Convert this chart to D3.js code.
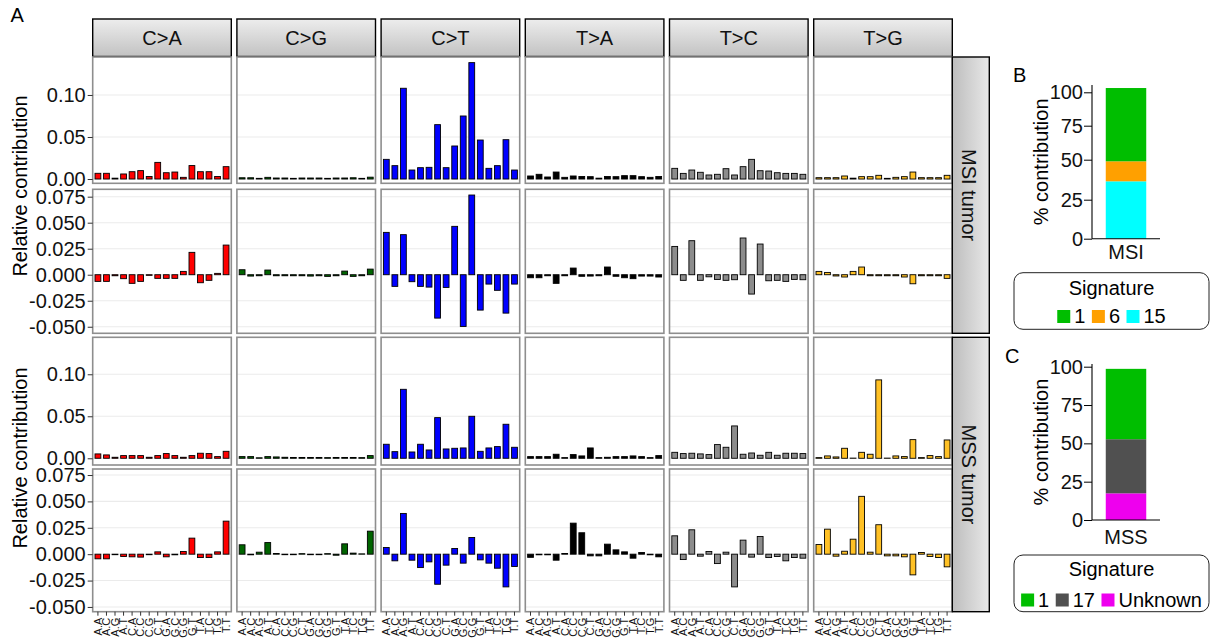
<!DOCTYPE html>
<html>
<head>
<meta charset="utf-8">
<script src="https://cdn.jsdelivr.net/npm/d3@7"></script>
<style>
  body { margin: 0; background: #fff; }
  svg { display: block; font-family: "Liberation Sans", Arial, Helvetica, sans-serif; }
</style>
</head>
<body>
<svg id="chart" width="1210" height="638"></svg>
<script>
// ---- data ----
const mutationTypes = ["C>A", "C>G", "C>T", "T>A", "T>C", "T>G"];
const contexts = ["A.A", "A.C", "A.G", "A.T", "C.A", "C.C", "C.G", "C.T",
                  "G.A", "G.C", "G.G", "G.T", "T.A", "T.C", "T.G", "T.T"];
const typeColors = ["#FF0000", "#006400", "#0000FF", "#000000", "#8C8C8C", "#FFC125"];
const tumorLabels = ["MSI tumor", "MSS tumor"];

// 96-channel profiles, ordered by mutation type then context
const msiProfile = [
  0.0068, 0.0068, 0.0010, 0.0060, 0.0087, 0.0100, 0.0030, 0.0198, 0.0075, 0.0083, 0.0020, 0.0160, 0.0087, 0.0087, 0.0030, 0.0147,
  0.0015, 0.0015, 0.0008, 0.0020, 0.0012, 0.0012, 0.0008, 0.0012, 0.0012, 0.0012, 0.0008, 0.0012, 0.0012, 0.0015, 0.0008, 0.0022,
  0.0234, 0.0159, 0.1080, 0.0107, 0.0135, 0.0139, 0.0647, 0.0135, 0.0393, 0.0750, 0.1385, 0.0464, 0.0127, 0.0159, 0.0468, 0.0107,
  0.0036, 0.0056, 0.0024, 0.0083, 0.0020, 0.0036, 0.0030, 0.0028, 0.0010, 0.0030, 0.0028, 0.0040, 0.0040, 0.0028, 0.0020, 0.0030,
  0.0127, 0.0067, 0.0107, 0.0080, 0.0048, 0.0056, 0.0123, 0.0048, 0.0147, 0.0234, 0.0099, 0.0095, 0.0075, 0.0067, 0.0067, 0.0056,
  0.0016, 0.0016, 0.0016, 0.0036, 0.0010, 0.0028, 0.0028, 0.0044, 0.0008, 0.0020, 0.0028, 0.0083, 0.0016, 0.0016, 0.0016, 0.0044
];
const msiDifference = [
  -0.0064, -0.0064, -0.0010, -0.0038, -0.0083, -0.0064, -0.0006, -0.0035, -0.0035, -0.0035, 0.0032, 0.0215, -0.0077, -0.0054, 0.0013, 0.0285,
  0.0048, -0.0013, -0.0010, 0.0045, -0.0010, -0.0010, -0.0010, -0.0010, -0.0013, -0.0010, -0.0016, -0.0010, 0.0035, -0.0016, -0.0010, 0.0054,
  0.0407, -0.0112, 0.0385, -0.0067, -0.0112, -0.0119, -0.0417, -0.0122, 0.0465, -0.0497, 0.0766, -0.0340, -0.0090, -0.0150, -0.0369, -0.0090,
  -0.0029, -0.0029, -0.0010, -0.0083, -0.0010, 0.0064, -0.0015, -0.0013, -0.0010, 0.0074, -0.0015, -0.0029, -0.0038, -0.0013, -0.0013, -0.0022,
  0.0272, -0.0054, 0.0327, -0.0054, -0.0020, -0.0045, -0.0054, -0.0048, 0.0353, -0.0186, 0.0295, -0.0058, -0.0054, -0.0064, -0.0045, -0.0048,
  0.0032, 0.0022, -0.0012, -0.0022, 0.0032, 0.0074, -0.0010, -0.0010, -0.0010, -0.0010, -0.0022, -0.0087, -0.0010, -0.0010, -0.0010, -0.0035
];
const mssProfile = [
  0.0052, 0.0040, 0.0012, 0.0032, 0.0032, 0.0032, 0.0012, 0.0032, 0.0056, 0.0032, 0.0012, 0.0032, 0.0060, 0.0056, 0.0020, 0.0083,
  0.0020, 0.0020, 0.0006, 0.0020, 0.0016, 0.0012, 0.0010, 0.0010, 0.0010, 0.0010, 0.0008, 0.0010, 0.0010, 0.0010, 0.0008, 0.0032,
  0.0167, 0.0079, 0.0821, 0.0075, 0.0167, 0.0099, 0.0484, 0.0111, 0.0119, 0.0123, 0.0500, 0.0083, 0.0123, 0.0139, 0.0405, 0.0131,
  0.0020, 0.0020, 0.0020, 0.0048, 0.0008, 0.0044, 0.0028, 0.0123, 0.0008, 0.0012, 0.0020, 0.0020, 0.0028, 0.0020, 0.0008, 0.0032,
  0.0071, 0.0056, 0.0060, 0.0052, 0.0044, 0.0163, 0.0131, 0.0385, 0.0048, 0.0063, 0.0036, 0.0071, 0.0036, 0.0060, 0.0060, 0.0056,
  0.0008, 0.0028, 0.0016, 0.0119, 0.0002, 0.0071, 0.0048, 0.0933, 0.0002, 0.0028, 0.0020, 0.0222, 0.0008, 0.0032, 0.0020, 0.0218
];
const mssDifference = [
  -0.0044, -0.0044, -0.0005, -0.0022, -0.0025, -0.0028, -0.0005, 0.0022, -0.0025, -0.0006, 0.0025, 0.0152, -0.0032, -0.0032, 0.0022, 0.0313,
  0.0089, -0.0006, 0.0019, 0.0110, 0.0006, -0.0005, -0.0005, 0.0005, -0.0005, -0.0005, 0.0005, -0.0010, 0.0098, 0.0010, 0.0003, 0.0218,
  0.0063, -0.0063, 0.0386, -0.0057, -0.0127, -0.0073, -0.0285, -0.0104, 0.0054, -0.0085, 0.0158, -0.0054, -0.0085, -0.0133, -0.0310, -0.0117,
  -0.0030, -0.0006, -0.0006, -0.0057, 0.0006, 0.0294, 0.0203, -0.0016, -0.0016, 0.0095, 0.0041, 0.0022, -0.0038, 0.0016, -0.0006, -0.0025,
  0.0174, -0.0051, 0.0231, -0.0019, 0.0025, -0.0089, 0.0019, -0.0310, 0.0133, -0.0028, 0.0168, -0.0032, -0.0022, -0.0063, -0.0032, -0.0038,
  0.0092, 0.0237, -0.0019, 0.0028, 0.0142, 0.0548, 0.0019, 0.0279, -0.0016, -0.0016, -0.0025, -0.0196, 0.0016, -0.0022, -0.0032, -0.0120
];
const profileTicks = [0, 0.05, 0.10];
const differenceTicks = [-0.050, -0.025, 0, 0.025, 0.050, 0.075];

// signature contributions (%)
const msiSignatures = ["1", "6", "15"];
const msiContribution = [54.2, 12.5, 36.5];
const msiSignatureColors = ["#00BE00", "#FFA000", "#00FFFF"];
const mssSignatures = ["1", "17", "Unknown"];
const mssContribution = [45.9, 35.3, 17.4];
const mssSignatureColors = ["#00BE00", "#505050", "#EE00EE"];
const percentTicks = [0, 25, 50, 75, 100];

// ---- layout ----
const svg = d3.select("#chart");
const defs = svg.append("defs");
const FONT = 20;
const locale = d3.formatLocale({decimal: ".", thousands: ",", grouping: [3], currency: ["", ""], minus: "-"});

const stripV = defs.append("linearGradient").attr("id", "stripTop")
  .attr("x1", 0).attr("y1", 0).attr("x2", 0).attr("y2", 1);
stripV.append("stop").attr("offset", 0).attr("stop-color", "#ededed");
stripV.append("stop").attr("offset", 1).attr("stop-color", "#c2c2c2");
const stripH = defs.append("linearGradient").attr("id", "stripSide")
  .attr("x1", 0).attr("y1", 0).attr("x2", 1).attr("y2", 0);
stripH.append("stop").attr("offset", 0).attr("stop-color", "#bdbdbd");
stripH.append("stop").attr("offset", 1).attr("stop-color", "#e8e8e8");

const gridLeft = 92.7, colStride = 144.2, colWidth = 138.6;
const stripTop = 19, stripBottom = 56.5;
const rowLayout = [
  {top: 57,    bottom: 183.3, domain: [-0.0051, 0.1452], ticks: profileTicks,    fmt: ".2f"},
  {top: 189.3, bottom: 333.3, domain: [-0.0563, 0.0821], ticks: differenceTicks, fmt: ".3f"},
  {top: 337.3, bottom: 465,   domain: [-0.0080, 0.1440], ticks: profileTicks,    fmt: ".2f"},
  {top: 469,   bottom: 611.7, domain: [-0.0545, 0.0807], ticks: differenceTicks, fmt: ".3f"}
];
const rowValues = [msiProfile, msiDifference, mssProfile, mssDifference];

const colX = mutationTypes.map((t, i) => gridLeft + i * colStride);

// top strips
mutationTypes.forEach((t, i) => {
  const g = svg.append("g");
  g.append("rect").attr("x", colX[i]).attr("y", stripTop)
    .attr("width", colWidth).attr("height", stripBottom - stripTop)
    .attr("fill", "url(#stripTop)").attr("stroke", "#000").attr("stroke-width", 1.4);
  g.append("text").attr("x", colX[i] + colWidth / 2).attr("y", 45)
    .attr("text-anchor", "middle").attr("font-size", FONT).attr("fill", "#111").text(t);
});

// panels
rowLayout.forEach((row, r) => {
  const y = d3.scaleLinear().domain(row.domain).range([row.bottom, row.top]);
  const fmt = locale.format(row.fmt);

  mutationTypes.forEach((t, c) => {
    const left = colX[c];
    const x = d3.scaleBand().domain(contexts).range([left, left + colWidth])
      .paddingInner(0.32).paddingOuter(0.27);
    const vals = rowValues[r].slice(c * 16, c * 16 + 16);
    const g = svg.append("g");
    g.append("rect").attr("x", left).attr("y", row.top)
      .attr("width", colWidth).attr("height", row.bottom - row.top).attr("fill", "#fff");
    g.selectAll("line.grid").data(row.ticks).join("line").attr("class", "grid")
      .attr("x1", left).attr("x2", left + colWidth)
      .attr("y1", d => y(d)).attr("y2", d => y(d))
      .attr("stroke", "#ebebeb").attr("stroke-width", 1.1);
    g.selectAll("rect.bar").data(vals).join("rect").attr("class", "bar")
      .attr("x", (d, i) => x(contexts[i]))
      .attr("width", x.bandwidth())
      .attr("y", d => y(Math.max(0, d)))
      .attr("height", d => Math.abs(y(d) - y(0)))
      .attr("fill", typeColors[c]).attr("stroke", "#000").attr("stroke-width", 0.9);
    g.append("rect").attr("x", left).attr("y", row.top)
      .attr("width", colWidth).attr("height", row.bottom - row.top)
      .attr("fill", "none").attr("stroke", "#8e8e8e").attr("stroke-width", 1.6);

    if (r === rowLayout.length - 1) {
      const ax = svg.append("g").attr("transform", `translate(0,${row.bottom})`)
        .call(d3.axisBottom(x).tickSize(4).tickSizeOuter(0));
      ax.select(".domain").remove();
      ax.selectAll(".tick line").attr("stroke", "#333");
      ax.selectAll(".tick text")
        .attr("transform", "rotate(-90)").attr("text-anchor", "end")
        .attr("x", -6).attr("y", 0).attr("dy", "0.35em")
        .attr("font-size", 11).attr("font-family", "Liberation Sans, Arial, sans-serif")
        .attr("fill", "#111");
    }
  });

  const ay = svg.append("g").attr("transform", `translate(${gridLeft},0)`)
    .call(d3.axisLeft(y).tickValues(row.ticks).tickFormat(fmt).tickSize(5).tickPadding(2));
  ay.select(".domain").remove();
  ay.selectAll(".tick line").attr("stroke", "#333");
  ay.selectAll(".tick text").attr("font-size", FONT).attr("fill", "#111")
    .attr("font-family", "Liberation Sans, Arial, sans-serif");
});

// side strips and y titles
const blocks = [
  {label: tumorLabels[0], top: 57, bottom: 333.3, titleY: 186},
  {label: tumorLabels[1], top: 337.3, bottom: 611.7, titleY: 458}
];
const sideX = gridLeft + 5 * colStride + colWidth;
blocks.forEach(b => {
  svg.append("rect").attr("x", sideX).attr("y", b.top)
    .attr("width", 37).attr("height", b.bottom - b.top)
    .attr("fill", "url(#stripSide)").attr("stroke", "#000").attr("stroke-width", 1.4);
  svg.append("text").attr("transform", `translate(${sideX + 9.5},${(b.top + b.bottom) / 2}) rotate(90)`)
    .attr("text-anchor", "middle").attr("font-size", FONT).attr("fill", "#111").text(b.label);
  svg.append("text").attr("transform", `translate(27,${b.titleY}) rotate(-90)`)
    .attr("text-anchor", "middle").attr("font-size", FONT).attr("fill", "#000")
    .text("Relative contribution");
});

// panel letters
svg.append("text").attr("x", 10.5).attr("y", 21.7).attr("font-size", FONT).text("A");
svg.append("text").attr("x", 1013).attr("y", 81.7).attr("font-size", FONT).text("B");
svg.append("text").attr("x", 1005).attr("y", 363.3).attr("font-size", FONT).text("C");

// stacked signature bars
function signatureBar(opts) {
  const {sample, names, shares, colors, y, axisTop, axisBottom, labelY, legend} = opts;
  const g = svg.append("g");
  const x = d3.scaleBand().domain([sample]).range([1092, 1160]).paddingInner(0).paddingOuter(0.34);
  // stack: last signature sits at the bottom
  let acc = 0;
  const segs = [];
  for (let i = names.length - 1; i >= 0; i--) {
    segs.push({name: names[i], color: colors[i], y0: acc, y1: acc + shares[i]});
    acc += shares[i];
  }
  g.selectAll("rect.seg").data(segs).join("rect").attr("class", "seg")
    .attr("x", x(sample)).attr("width", x.bandwidth())
    .attr("y", d => y(d.y1)).attr("height", d => y(d.y0) - y(d.y1))
    .attr("fill", d => d.color);
  g.append("line").attr("x1", 1092).attr("x2", 1092).attr("y1", axisTop).attr("y2", axisBottom)
    .attr("stroke", "#000").attr("stroke-width", 1.1);
  g.append("line").attr("x1", 1092).attr("x2", 1160).attr("y1", axisBottom).attr("y2", axisBottom)
    .attr("stroke", "#000").attr("stroke-width", 1.1);
  const ay = g.append("g").attr("transform", "translate(1092,0)")
    .call(d3.axisLeft(y).tickValues(percentTicks).tickSize(8).tickPadding(1));
  ay.select(".domain").remove();
  ay.selectAll(".tick line").attr("stroke", "#000");
  ay.selectAll(".tick text").attr("font-size", FONT).attr("fill", "#111")
    .attr("font-family", "Liberation Sans, Arial, sans-serif");
  g.append("text").attr("x", x(sample) + x.bandwidth() / 2).attr("y", labelY)
    .attr("text-anchor", "middle").attr("font-size", FONT).attr("fill", "#111").text(sample);
  g.append("text").attr("transform", `translate(1048,${(axisTop + axisBottom) / 2}) rotate(-90)`)
    .attr("text-anchor", "middle").attr("font-size", FONT).attr("fill", "#000").text("% contribution");

  // legend
  const L = legend;
  g.append("rect").attr("x", 1014).attr("y", L.top).attr("width", 195).attr("height", L.height)
    .attr("rx", 9).attr("fill", "#fff").attr("stroke", "#222").attr("stroke-width", 1);
  g.append("text").attr("x", 1111.5).attr("y", L.titleY).attr("text-anchor", "middle")
    .attr("font-size", FONT).attr("fill", "#000").text("Signature");
  const key = 13, gapText = 4, gapItem = 6.5;
  const items = g.append("g");
  const widths = names.map(n => {
    const t = items.append("text").attr("font-size", FONT).text(n);
    const w = t.node().getComputedTextLength();
    t.remove();
    return w;
  });
  const total = d3.sum(widths) + names.length * (key + gapText) + (names.length - 1) * gapItem;
  let cx = 1111.5 - total / 2;
  names.forEach((n, i) => {
    items.append("rect").attr("x", cx).attr("y", L.keyY).attr("width", key).attr("height", key)
      .attr("fill", colors[i]);
    items.append("text").attr("x", cx + key + gapText).attr("y", L.keyY + key)
      .attr("font-size", FONT).attr("fill", "#000").text(n);
    cx += key + gapText + widths[i] + gapItem;
  });
}

signatureBar({
  sample: "MSI", names: msiSignatures, shares: msiContribution, colors: msiSignatureColors,
  y: d3.scaleLinear().domain(percentTicks).range([238.7, 199.7, 159.7, 125.7, 92.3]),
  axisTop: 85, axisBottom: 238.7, labelY: 258.5,
  legend: {top: 272.7, height: 56.6, titleY: 295, keyY: 310}
});
signatureBar({
  sample: "MSS", names: mssSignatures, shares: mssContribution, colors: mssSignatureColors,
  y: d3.scaleLinear().domain([0, 100]).range([520, 366.7]),
  axisTop: 364, axisBottom: 520, labelY: 543.5,
  legend: {top: 555, height: 56.7, titleY: 575.5, keyY: 593.5}
});
</script>
</body>
</html>
